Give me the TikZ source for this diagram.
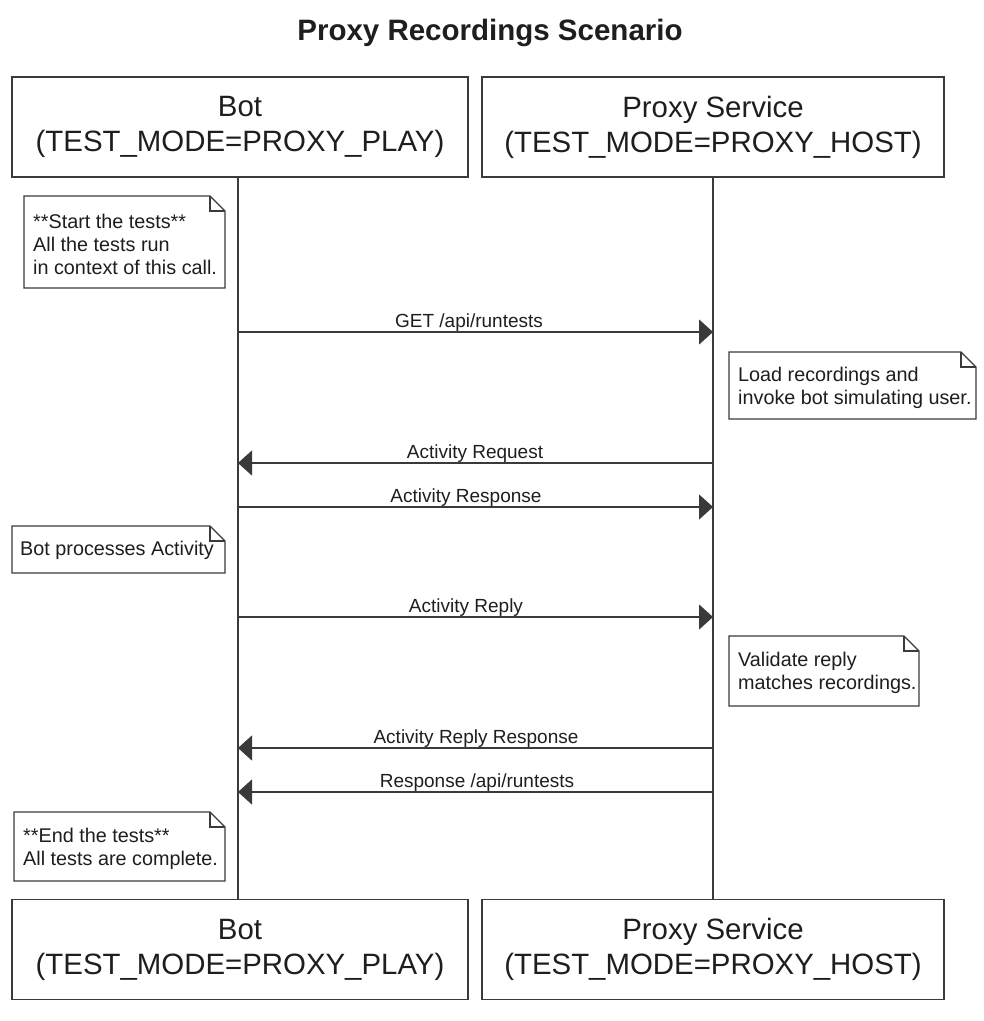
\documentclass[tikz,border=0pt]{standalone}
\usepackage{fontspec}
\setmainfont{Liberation Sans}
\usetikzlibrary{arrows.meta}
\definecolor{ln}{HTML}{3A3A3A}
\definecolor{tx}{HTML}{1E1E1E}
\tikzset{
  actor/.style={draw=ln, line width=1.5pt, fill=white, minimum width=456pt, minimum height=100pt,
    inner sep=0pt, align=center, text=tx, font=\fontsize{29.4}{35}\selectfont},
  notebox/.style={inner sep=0pt, text=tx, align=left, font=\fontsize{19.8}{23}\selectfont},
  noteframe/.style={draw=ln, line width=1.2pt, fill=white},
  lifeline/.style={draw=ln, line width=1.4pt},
  msg/.style={draw=ln, line width=1.4pt, -{Triangle[length=14pt,width=25pt]}},
  msglabel/.style={anchor=base, text=tx, font=\fontsize{19}{22}\selectfont, inner sep=0pt}
}
\begin{document}
\begin{tikzpicture}[x=1pt,y=-1pt]
\useasboundingbox (0,0) rectangle (984,1021);
\node[font=\fontsize{29.5}{32}\selectfont\bfseries, text=tx] (title) at (490,33) {Proxy Recordings Scenario};

% actors
\node[actor] (bt) at (240,127) {\raisebox{-3pt}{Bot}\\\raisebox{-3pt}{(TEST\_MODE=PROXY\_PLAY)}};
\node[actor, minimum width=462pt] (pt) at (713,127) {\raisebox{-3pt}{Proxy Service}\\\raisebox{-3pt}{(TEST\_MODE=PROXY\_HOST)}};
\node[actor] (bb) at (240,949.5) {\raisebox{-3pt}{Bot}\\\raisebox{-3pt}{(TEST\_MODE=PROXY\_PLAY)}};
\node[actor, minimum width=462pt] (pb) at (713,949.5) {\raisebox{-3pt}{Proxy Service}\\\raisebox{-3pt}{(TEST\_MODE=PROXY\_HOST)}};

% lifeline ends
\coordinate (bl1) at ([xshift=-2pt]bt.south);
\coordinate (bl2) at ([xshift=-2pt]bb.north);

% lifelines
\draw[lifeline] (bl1) -- (bl2);
\draw[lifeline] (pt.south) -- (pb.north);

% note frames
\newcommand{\notefold}[5]{% name, x1, y1, x2, y2
  \draw[noteframe] (#2,#3) -- (#4-15,#3) -- (#4,#3+15) -- (#4,#5) -- (#2,#5) -- cycle;
  \draw[noteframe, fill=none] (#4-15,#3) -- (#4-15,#3+15) -- (#4,#3+15);
  \coordinate (#1) at (#2+9,{(#3+#5)/2});
}
\notefold{n1}{24}{196}{225}{288}
\notefold{n2}{729}{352}{976}{419}
\notefold{n3}{12}{526}{225}{573}
\notefold{n4}{729}{636}{919}{706}
\notefold{n5}{14}{812}{225}{881}

\node[notebox, anchor=west] (t1) at ([yshift=-2pt]n1) {**Start the tests**\\All the tests run\\in context of this call.};
\node[notebox, anchor=west] (t2) at ([yshift=-2pt]n2) {Load recordings and\\invoke bot simulating user.};
\node[notebox, anchor=west] (t3) at ([xshift=-1pt,yshift=-1pt]n3) {Bot processes Activity};
\node[notebox, anchor=west] (t4) at ([yshift=-2pt]n4) {Validate reply\\matches recordings.};
\node[notebox, anchor=west] (t5) at ([yshift=-2pt]n5) {**End the tests**\\All tests are complete.};

% message rows
\coordinate (y1) at (0,332);
\coordinate (y2) at (0,463);
\coordinate (y3) at (0,507);
\coordinate (y4) at (0,617);
\coordinate (y5) at (0,748);
\coordinate (y6) at (0,792);

\draw[msg] (bl1 |- y1) -- (pt.south |- y1);
\draw[msg] (pt.south |- y2) -- (bl1 |- y2);
\draw[msg] (bl1 |- y3) -- (pt.south |- y3);
\draw[msg] (bl1 |- y4) -- (pt.south |- y4);
\draw[msg] (pt.south |- y5) -- (bl1 |- y5);
\draw[msg] (pt.south |- y6) -- (bl1 |- y6);

\node[msglabel] (l1) at (469,327) {GET /api/runtests};
\node[msglabel] (l2) at (475,458) {Activity Request};
\node[msglabel] (l3) at (466,502) {Activity Response};
\node[msglabel] (l4) at (466,612) {Activity Reply};
\node[msglabel] (l5) at (476,743) {Activity Reply Response};
\node[msglabel] (l6) at (477,787) {Response /api/runtests};
\end{tikzpicture}
\end{document}
